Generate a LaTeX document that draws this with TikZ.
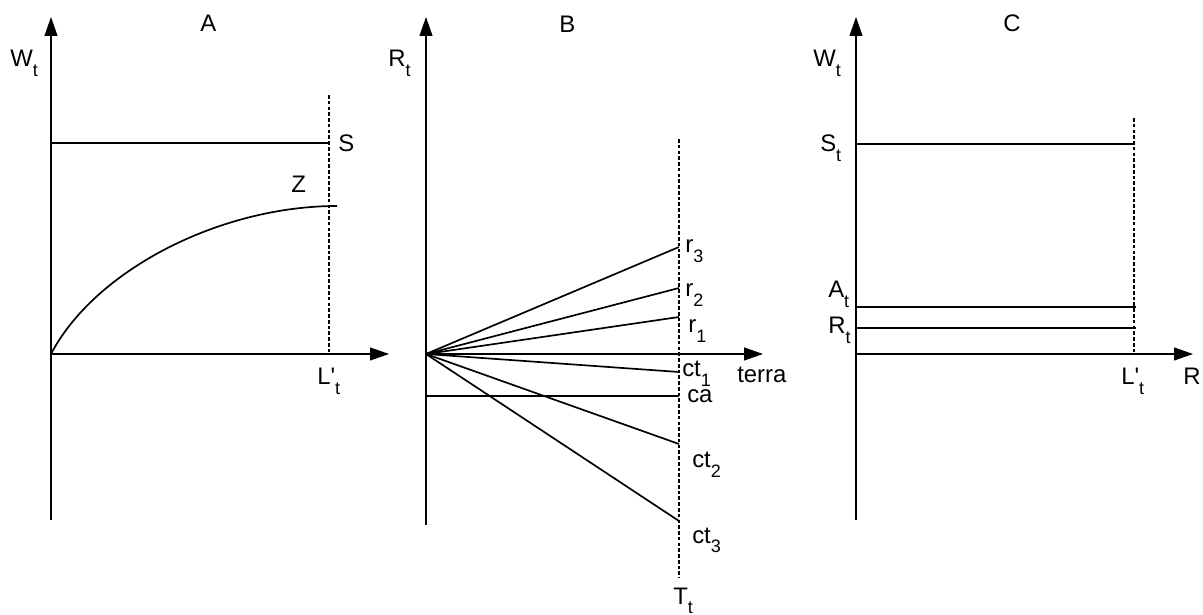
\documentclass[tikz,border=0pt]{standalone}
\usepackage{fontspec}
\setmainfont{Liberation Sans}
\usepackage{tikz}
\usetikzlibrary{arrows.meta}
\newcommand{\lowsub}[1]{\raisebox{-7pt}{\fontsize{12.8}{14}\selectfont #1}}
\newcommand{\lprime}{L\textquotesingle\lowsub{t}}
\tikzstyle{axis} = [line width=0.85pt, -{Triangle[length=0.47cm,width=0.32cm]}]
\tikzstyle{plain} = [line width=1.2pt]
\tikzstyle{limit} = [line width=0.9pt, dash pattern=on 2.6pt off 1.5pt]
\tikzstyle{lbl} = [font=\fontsize{17}{20}\selectfont, inner sep=0pt, anchor=base west]

\begin{document}
\begin{tikzpicture}[x=0.025cm, y=-0.025cm]
\useasboundingbox (0,0) rectangle (1203,615);

% panel A
\coordinate (oA) at (51,354);
\coordinate (topA) at (51,17);
\coordinate (botA) at (51,520);
\coordinate (endA) at (389,354);
\coordinate (sA) at (329,143);
\coordinate (sA0) at (51,143);
\coordinate (dA) at (329,95);
\coordinate (lA) at (329,354);
\coordinate (zA) at (337,206);
\draw[axis] (botA) -- (topA);
\draw[axis] (oA) -- (endA);
\draw[plain] (sA0) -- (sA);
\draw[limit] (dA) -- (lA);
\draw[plain] (oA) .. controls (95,270) and (220,206) .. (zA);
\node[lbl] (ttlA) at (200,32) {A};
\node[lbl] (wA) at (10,67) {W\lowsub{t}};
\node[lbl] (sLbl) at (338,152) {S};
\node[lbl] (zLbl) at (291,193) {Z};
\node[lbl] (lLblA) at (317,385) {\lprime};

% panel B
\coordinate (oB) at (426,354);
\coordinate (topB) at (426,17);
\coordinate (botB) at (426,525);
\coordinate (endB) at (763,354);
\coordinate (dB) at (679,139);
\coordinate (tB) at (679,578);
\coordinate (caB0) at (426,396);
\coordinate (caB) at (679,396);
\draw[axis] (botB) -- (topB);
\draw[axis] (oB) -- (endB);
\draw[limit] (dB) -- (tB);
\draw[plain] (caB0) -- (caB);
\foreach \nm/\yy in {r3/247, r2/288, r1/317, ct1/372, ct2/444, ct3/521}{
  \coordinate (\nm) at (679,\yy);
  \draw[plain] (oB) -- (\nm);
}
\node[lbl] (ttlB) at (559,33) {B};
\node[lbl] (rB) at (388,67) {R\lowsub{t}};
\node[lbl] (r3Lbl) at (685,253) {r\lowsub{3}};
\node[lbl] (r2Lbl) at (685,297) {r\lowsub{2}};
\node[lbl] (r1Lbl) at (688,333) {r\lowsub{1}};
\node[lbl] (ct1Lbl) at (682,377) {ct\lowsub{1}};
\node[lbl] (terraLbl) at (737,383) {terra};
\node[lbl] (caLbl) at (687,403) {ca};
\node[lbl] (ct2Lbl) at (692,468) {ct\lowsub{2}};
\node[lbl] (ct3Lbl) at (692,543) {ct\lowsub{3}};
\node[lbl] (tLbl) at (673,604) {T\lowsub{t}};

% panel C
\coordinate (oC) at (856,354);
\coordinate (topC) at (856,17);
\coordinate (botC) at (856,520);
\coordinate (endC) at (1193,354);
\coordinate (dC) at (1134,118);
\coordinate (lC) at (1134,354);
\coordinate (sC0) at (856,144);
\coordinate (sC) at (1134,144);
\coordinate (aC0) at (856,307);
\coordinate (aC) at (1136,307);
\coordinate (rC0) at (856,328);
\coordinate (rC) at (1136,328);
\draw[axis] (botC) -- (topC);
\draw[axis] (oC) -- (endC);
\draw[limit] (dC) -- (lC);
\draw[plain] (sC0) -- (sC);
\draw[plain] (aC0) -- (aC);
\draw[plain] (rC0) -- (rC);
\node[lbl] (ttlC) at (1003,32) {C};
\node[lbl] (wC) at (813,67) {W\lowsub{t}};
\node[lbl] (sCLbl) at (820,152) {S\lowsub{t}};
\node[lbl] (aCLbl) at (828,298) {A\lowsub{t}};
\node[lbl] (rCLbl) at (828,334) {R\lowsub{t}};
\node[lbl] (lLblC) at (1121,385) {\lprime};
\node[lbl] (rAxis) at (1183,385) {R};
\end{tikzpicture}
\end{document}
